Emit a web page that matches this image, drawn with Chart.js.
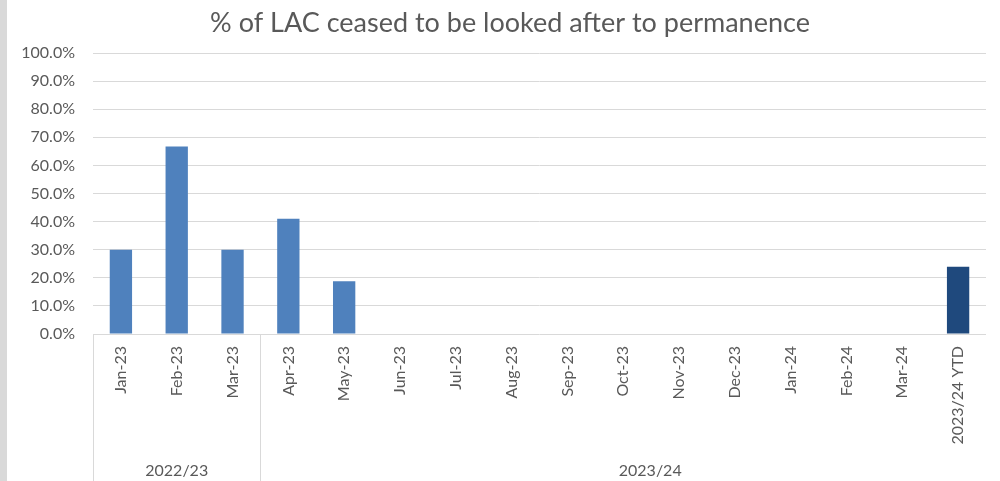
<!DOCTYPE html>
<html>
<head>
<meta charset="utf-8">
<script src="https://cdn.jsdelivr.net/npm/chart.js@4.4.0/dist/chart.umd.min.js"></script>
<style>
    html, body { margin: 0; padding: 0; background: #fff; }
    #wrap { position: relative; width: 1000px; height: 481px; }
    #strip { position: absolute; left: 0; top: 0; width: 7px; height: 481px; background: #d9d9d9; }
</style>
</head>
<body>
<div id="wrap">
    <canvas id="permChart" width="1000" height="481"></canvas>
    <div id="strip"></div>
</div>
<script>
// Chart data
const chartTitle = '% of LAC ceased to be looked after to permanence';
const months = ['Jan-23', 'Feb-23', 'Mar-23', 'Apr-23', 'May-23', 'Jun-23', 'Jul-23', 'Aug-23',
    'Sep-23', 'Oct-23', 'Nov-23', 'Dec-23', 'Jan-24', 'Feb-24', 'Mar-24', '2023/24 YTD'];
const permanencePct = [0.30, 0.667, 0.30, 0.41, 0.188, null, null, null,
    null, null, null, null, null, null, null, 0.239];
const yearGroups = ['2022/23', '2023/24'];
const yearGroupSizes = [3, 13];
const yTicks = [0, 0.1, 0.2, 0.3, 0.4, 0.5, 0.6, 0.7, 0.8, 0.9, 1.0];

const textColor = '#595959';
const gridColor = '#d9d9d9';
const fontFamily = 'Lato, "Open Sans", sans-serif';

// Title drawn by hand so it can sit where Excel put it (slightly right of centre)
const titlePlugin = {
    id: 'excelTitle',
    afterDraw(chart) {
        const ctx = chart.ctx;
        ctx.save();
        ctx.fillStyle = textColor;
        ctx.font = '27px ' + fontFamily;
        ctx.textAlign = 'center';
        ctx.textBaseline = 'middle';
        ctx.fillText(chartTitle, 510, 23);
        ctx.restore();
    }
};

// Draws the second level of the category axis (financial years)
const yearGroupPlugin = {
    id: 'yearGroups',
    afterDraw(chart) {
        const ctx = chart.ctx;
        const x = chart.scales.x;
        const area = chart.chartArea;
        const half = (x.getPixelForValue(1) - x.getPixelForValue(0)) / 2;
        ctx.save();
        ctx.strokeStyle = gridColor;
        ctx.lineWidth = 1;
        ctx.fillStyle = textColor;
        ctx.font = '16px ' + fontFamily;
        ctx.textAlign = 'center';
        ctx.textBaseline = 'middle';
        let start = 0;
        yearGroups.forEach((label, i) => {
            const end = start + yearGroupSizes[i] - 1;
            const left = Math.round(x.getPixelForValue(start) - half) + 0.5;
            ctx.beginPath();
            ctx.moveTo(left, area.bottom);
            ctx.lineTo(left, chart.height);
            ctx.stroke();
            let cx = (x.getPixelForValue(start) + x.getPixelForValue(end)) / 2;
            if (i === yearGroups.length - 1) cx += 27; // Excel places this one a bit right
            ctx.fillText(label, cx, 471);
            start = end + 1;
        });
        ctx.restore();
    }
};

new Chart(document.getElementById('permChart'), {
    type: 'bar',
    data: {
        labels: months,
        datasets: [{
            label: '% ceased to permanence',
            data: permanencePct,
            backgroundColor: (c) => months[c.dataIndex].includes('YTD') ? '#1f497d' : '#4f81bd',
            borderWidth: 0,
            categoryPercentage: 1,
            barPercentage: 0.4
        }]
    },
    options: {
        responsive: false,
        animation: false,
        layout: { padding: { left: 0, right: 14, top: 53, bottom: 0 } },
        plugins: {
            legend: { display: false },
            tooltip: { enabled: false },
            title: { display: false }
        },
        scales: {
            x: {
                grid: { display: false, drawTicks: false },
                border: { display: false },
                ticks: {
                    color: textColor,
                    font: { family: fontFamily, size: 16 },
                    minRotation: 90,
                    maxRotation: 90,
                    padding: 12,
                    autoSkip: false
                },
                afterFit(scale) { scale.height = 147; }
            },
            y: {
                min: 0,
                max: 1,
                grid: { color: gridColor, drawTicks: false },
                border: { display: false },
                afterBuildTicks(scale) { scale.ticks = yTicks.map(v => ({ value: v })); },
                ticks: {
                    color: textColor,
                    font: { family: fontFamily, size: 16 },
                    padding: 18,
                    callback: (v) => (v * 100).toFixed(1) + '%'
                },
                afterFit(scale) { scale.width = 93; }
            }
        }
    },
    plugins: [titlePlugin, yearGroupPlugin]
});
</script>
</body>
</html>
